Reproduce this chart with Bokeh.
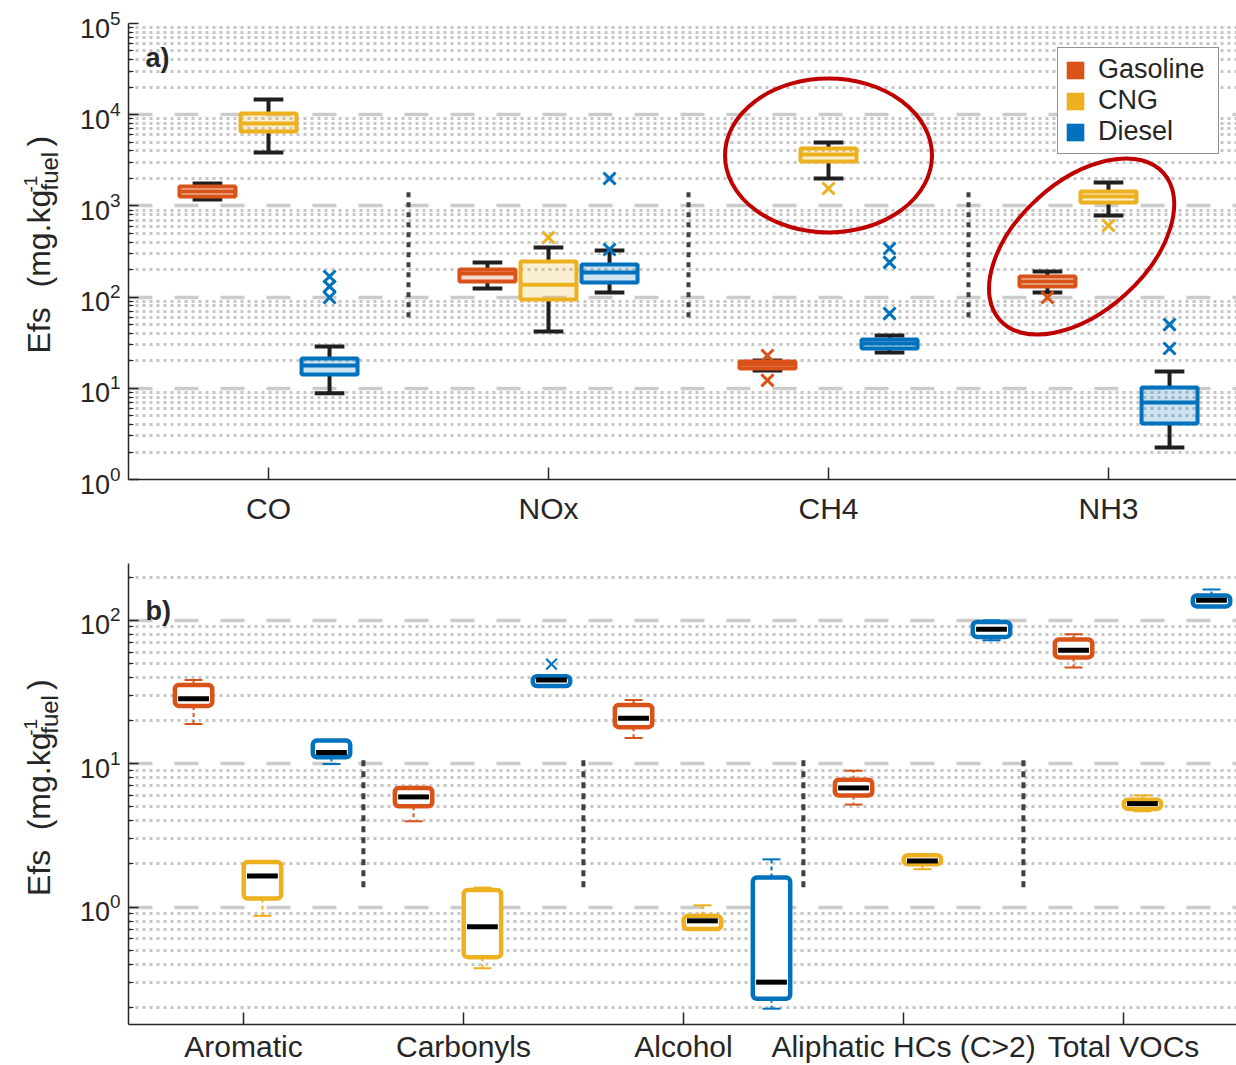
import math
from bokeh.plotting import figure
from bokeh.models import FixedTicker, Label, Legend, LegendItem, Range1d
from bokeh.layouts import column, row
from bokeh.embed import file_html
from bokeh.resources import INLINE
from bokeh.core.properties import value

# ---------------- data: panel a (mg/kg fuel) ----------------
cats_a = ["CO", "NOx", "CH4", "NH3"]

gas_a_wlo = [1175, 124, 15.7, 112]
gas_a_q1 = [1268, 148, 16.5, 131]
gas_a_med = [1438, 181, 18.2, 148]
gas_a_q3 = [1633, 201, 19.7, 168]
gas_a_whi = [1761, 240, 20.2, 191]
gas_a_out_cat = [3, 3, 4]
gas_a_out_val = [22.9, 12.2, 99]

cng_a_wlo = [3850, 42, 1995, 785]
cng_a_q1 = [6540, 94, 3070, 1089]
cng_a_med = [8010, 137, 3660, 1268]
cng_a_q3 = [10300, 246, 4260, 1438]
cng_a_whi = [14680, 350, 4960, 1805]
cng_a_out_cat = [2, 3, 4]
cng_a_out_val = [450, 1552, 610]

die_a_wlo = [8.8, 112, 24.7, 2.24]
die_a_q1 = [14.2, 145, 27.3, 4.11]
die_a_med = [17.8, 186, 31, 6.98]
die_a_q3 = [21.2, 228, 34.3, 10.2]
die_a_whi = [28.7, 324, 37.9, 15.3]
die_a_out_cat = [1, 1, 1, 2, 2, 3, 3, 3, 4, 4]
die_a_out_val = [168, 131, 99, 1995, 333, 341, 240, 66, 50, 27.3]

# ---------------- data: panel b (mg/kg fuel) ----------------
cats_b = ["Aromatic", "Carbonyls", "Alcohol", "Aliphatic HCs (C>2)", "Total VOCs"]

gas_b_wlo = [18.9, 3.97, 15.1, 5.19, 46.9]
gas_b_q1 = [25.3, 5.05, 18.0, 6.0, 55.1]
gas_b_med = [28.4, 5.87, 20.8, 6.78, 61.9]
gas_b_q3 = [35.4, 6.78, 25.7, 7.74, 73.5]
gas_b_whi = [38.3, 6.9, 27.8, 8.94, 79.9]

cng_b_wlo = [0.87, 0.375, 0.70, 1.84, 4.66]
cng_b_q1 = [1.149, 0.448, 0.703, 1.99, 4.84]
cng_b_med = [1.65, 0.73, 0.803, 2.10, 5.27]
cng_b_q3 = [2.064, 1.319, 0.87, 2.30, 5.62]
cng_b_whi = [2.064, 1.37, 1.03, 2.30, 6.02]

die_b_wlo = [9.95, 34.8, 0.196, 72.6, 125]
die_b_q1 = [11.1, 34.8, 0.2297, 76.6, 125]
die_b_med = [12.0, 38.3, 0.30, 86.6, 138]
die_b_q3 = [14.5, 40.8, 1.607, 97.3, 149]
die_b_whi = [14.5, 40.8, 2.154, 100, 164]
die_b_out_cat = [2]
die_b_out_val = [49.5]

fuels = ["Gasoline", "CNG", "Diesel"]
colors = ["#D95319", "#EDB120", "#0072BD"]

# ---------------- styling ----------------
FONT = "Liberation Sans"
TXT = "#262626"
WHISK = "#1f1f1f"
RED = "#C00000"
LABW = 66          # width of the y-label strip
W = 1236


def style(p, ticks_y, minor_y, ticks_x, labels_x):
    p.outline_line_color = None
    p.background_fill_color = "white"
    p.border_fill_color = "white"
    p.xgrid.visible = False
    yt = FixedTicker(ticks=ticks_y, minor_ticks=minor_y)
    p.yaxis.ticker = yt
    p.ygrid.ticker = yt
    p.ygrid.grid_line_color = "#cbcbcb"
    p.ygrid.grid_line_width = 3.5
    p.ygrid.grid_line_dash = "24 22"
    p.ygrid.minor_grid_line_color = "#c6c6c6"
    p.ygrid.minor_grid_line_width = 3
    p.ygrid.minor_grid_line_dash = "3 4"
    p.xaxis.ticker = FixedTicker(ticks=ticks_x, minor_ticks=[])
    p.xaxis.major_label_overrides = {t: l for t, l in zip(ticks_x, labels_x)}
    for ax in (p.xaxis[0], p.yaxis[0]):
        ax.axis_line_color = TXT
        ax.axis_line_width = 1.5
        ax.major_tick_line_color = TXT
        ax.major_tick_line_width = 1.5
        ax.minor_tick_line_color = TXT
        ax.minor_tick_line_width = 1.2
        ax.major_tick_in = 10
        ax.major_tick_out = 0
        ax.minor_tick_in = 5
        ax.minor_tick_out = 0
        ax.major_label_text_font = FONT
        ax.major_label_text_color = TXT
    p.yaxis.major_label_text_font_size = "27px"
    p.xaxis.major_label_text_font_size = "30px"
    p.xaxis.major_tick_in = 12
    p.yaxis.major_label_standoff = 8


def label_strip(h, frame_top, frame_bot, shift):
    """narrow figure holding the rotated y-axis label; its frame is aligned with
    the neighbouring plot's frame, so the range is expressed in canvas pixels"""
    q = figure(width=LABW, height=h, x_range=Range1d(0, LABW),
               y_range=Range1d(h - frame_bot, h - frame_top),
               x_axis_location=None, y_axis_location=None, output_backend="svg",
               toolbar_location=None, min_border=0)
    q.outline_line_color = None
    q.grid.visible = False
    pieces = [
        ("Efs", 38.5, 353, "32px"),
        ("(mg.kg", 38.5, 287, "32px"),
        ("-1", 29.5, 192, "19px"),
        ("fuel", 48.5, 190, "24px"),
        (")", 38.5, 146, "32px"),
    ]
    for txt, cx, sy, fs in pieces:
        q.text(x=[cx], y=[h - (sy + shift)], text=[txt], angle=math.pi / 2,
               text_font=value(FONT), text_font_size=fs, text_color=TXT,
               text_align="left", text_baseline="middle")
    return q


def boxes_a(p, wlo, q1, med, q3, whi, out_cat, out_val, color, off):
    xs = [i + 1 + off for i in range(len(med))]
    hw, cw = 0.1, 0.053
    p.segment(x0=xs, y0=q3, x1=xs, y1=whi, line_color=WHISK, line_width=4)
    p.segment(x0=xs, y0=q1, x1=xs, y1=wlo, line_color=WHISK, line_width=4)
    p.segment(x0=[x - cw for x in xs], y0=whi, x1=[x + cw for x in xs], y1=whi, line_color=WHISK, line_width=4)
    p.segment(x0=[x - cw for x in xs], y0=wlo, x1=[x + cw for x in xs], y1=wlo, line_color=WHISK, line_width=4)
    p.quad(left=[x - hw for x in xs], right=[x + hw for x in xs], bottom=q1, top=q3,
           fill_color=color, fill_alpha=0.2, line_color=color, line_width=4)
    p.segment(x0=[x - hw for x in xs], y0=med, x1=[x + hw for x in xs], y1=med, line_color=color, line_width=4)
    p.scatter(x=[c + off for c in out_cat], y=out_val, marker="x", size=17, line_color=color, line_width=3)


def boxes_b(p, wlo, q1, med, q3, whi, out_cat, out_val, color, off):
    xs = [i + 1 + off for i in range(len(med))]
    hw, cw, mw = 0.085, 0.041, 0.07
    p.segment(x0=xs, y0=q3, x1=xs, y1=whi, line_color=color, line_width=2, line_dash="4 3")
    p.segment(x0=xs, y0=q1, x1=xs, y1=wlo, line_color=color, line_width=2, line_dash="4 3")
    p.segment(x0=[x - cw for x in xs], y0=whi, x1=[x + cw for x in xs], y1=whi, line_color=color, line_width=2)
    p.segment(x0=[x - cw for x in xs], y0=wlo, x1=[x + cw for x in xs], y1=wlo, line_color=color, line_width=2)
    p.quad(left=[x - hw for x in xs], right=[x + hw for x in xs], bottom=q1, top=q3,
           fill_color="white", line_color=color, line_width=4.5, border_radius=4)
    p.segment(x0=[x - mw for x in xs], y0=med, x1=[x + mw for x in xs], y1=med, line_color="black", line_width=5)
    if out_cat:
        p.scatter(x=[c + off for c in out_cat], y=out_val, marker="x", size=15, line_color=color, line_width=2)


# ---------------- panel a ----------------
H_A = 548
FT_A, FB_A = 23, 479
FH_A = FB_A - FT_A
FW = W - 128
p1 = figure(width=W - LABW, height=H_A, x_range=Range1d(0.5, 0.5 + FW / 280.0), y_range=Range1d(1, 1e5),
            y_axis_type="log", output_backend="svg", toolbar_location=None,
            min_border_left=128 - LABW, min_border_right=0, min_border_top=FT_A, min_border_bottom=H_A - FB_A)
style(p1, [10 ** k for k in range(0, 6)], [m * 10 ** k for k in range(0, 5) for m in range(2, 10)],
      [1, 2, 3, 4], cats_a)
p1.xaxis.major_label_standoff = 12

p1.segment(x0=[1.5, 2.5, 3.5], y0=[60] * 3, x1=[1.5, 2.5, 3.5], y1=[1590] * 3,
           line_color="#404040", line_width=4, line_dash="5 5")

boxes_a(p1, gas_a_wlo, gas_a_q1, gas_a_med, gas_a_q3, gas_a_whi, gas_a_out_cat, gas_a_out_val, colors[0], -0.218)
boxes_a(p1, cng_a_wlo, cng_a_q1, cng_a_med, cng_a_q3, cng_a_whi, cng_a_out_cat, cng_a_out_val, colors[1], 0.0)
boxes_a(p1, die_a_wlo, die_a_q1, die_a_med, die_a_q3, die_a_whi, die_a_out_cat, die_a_out_val, colors[2], 0.218)

p1.ellipse(x=[3.0], y=[3570], width=[207], height=[154], width_units="screen", height_units="screen",
           fill_color=None, line_color=RED, line_width=4)
p1.ellipse(x=[3.904], y=[359], width=[220], height=[130], angle=[math.radians(42)],
           width_units="screen", height_units="screen", fill_color=None, line_color=RED, line_width=4)

items = []
for f, c in zip(fuels, colors):
    # legend swatch renderers, placed outside the visible x range
    r = p1.quad(left=[-10], right=[-9], top=[2], bottom=[1.5], fill_color=c, line_color=None)
    items.append(LegendItem(label=f, renderers=[r]))
leg = Legend(items=items, location=(929, 325), orientation="vertical")
leg.label_text_font = FONT
leg.label_text_font_size = "27px"
leg.label_text_color = TXT
leg.glyph_width = 22
leg.glyph_height = 22
leg.label_height = 30
leg.label_width = 114
leg.label_standoff = 12
leg.padding = 6
leg.spacing = 0
leg.margin = 0
leg.border_line_color = TXT
leg.border_line_width = 1.5
leg.background_fill_color = "white"
leg.background_fill_alpha = 1.0
p1.add_layout(leg)

p1.add_layout(Label(x=17, y=FH_A - 34, x_units="screen", y_units="screen", text="a)",
                    text_font=FONT, text_font_size="27px", text_font_style="bold", text_color=TXT,
                    text_baseline="alphabetic"))
lab1 = label_strip(H_A, FT_A, FB_A, 0)

# ---------------- panel b ----------------
H_B = 1065 - H_A
FT_B, FB_B = 563 - H_A, 1026 - H_A
FH_B = FB_B - FT_B
x0b = 1 - 115 / 220.0
p2 = figure(width=W - LABW, height=H_B, x_range=Range1d(x0b, x0b + FW / 220.0), y_range=Range1d(0.152, 249),
            y_axis_type="log", output_backend="svg", toolbar_location=None,
            min_border_left=128 - LABW, min_border_right=0, min_border_top=FT_B,
            min_border_bottom=H_B - FB_B)
style(p2, [1, 10, 100],
      [m * 10 ** k for k in range(-1, 3) for m in range(2, 10) if 0.152 <= m * 10 ** k <= 249],
      [1, 2, 3, 4, 5], cats_b)
p2.xaxis.major_label_standoff = 5

p2.segment(x0=[1.545, 2.545, 3.545, 4.545], y0=[1.376] * 4, x1=[1.545, 2.545, 3.545, 4.545], y1=[11.4] * 4,
           line_color="#404040", line_width=4, line_dash="6 5")

boxes_b(p2, gas_b_wlo, gas_b_q1, gas_b_med, gas_b_q3, gas_b_whi, [], [], colors[0], -0.227)
boxes_b(p2, cng_b_wlo, cng_b_q1, cng_b_med, cng_b_q3, cng_b_whi, [], [], colors[1], 0.086)
boxes_b(p2, die_b_wlo, die_b_q1, die_b_med, die_b_q3, die_b_whi, die_b_out_cat, die_b_out_val, colors[2], 0.4)

p2.add_layout(Label(x=17, y=FH_B - 49, x_units="screen", y_units="screen", text="b)",
                    text_font=FONT, text_font_size="27px", text_font_style="bold", text_color=TXT,
                    text_baseline="alphabetic"))
lab2 = label_strip(H_B, FT_B, FB_B, 544 - H_A)

layout = column(row(lab1, p1, spacing=0), row(lab2, p2, spacing=0), spacing=0)
open("out.html", "w").write(file_html(layout, INLINE))
